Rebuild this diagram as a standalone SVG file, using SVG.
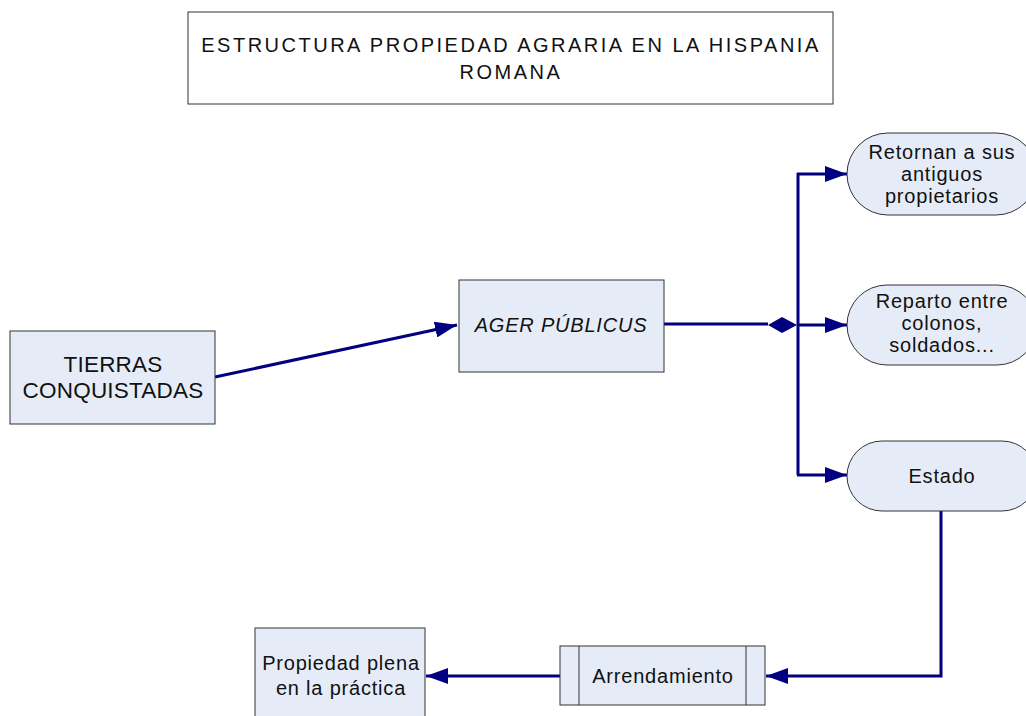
<svg xmlns="http://www.w3.org/2000/svg" width="1026" height="716" viewBox="0 0 1026 716">
<style>
.box{fill:#E6ECF7;stroke:#333;stroke-width:1}
.t{font-family:"Liberation Sans",Arial,sans-serif;font-size:20px;fill:#111;text-anchor:middle;letter-spacing:0.8px}
.title{font-size:20px;letter-spacing:2.5px}
.big{font-size:22.5px;letter-spacing:0.2px}
.c{fill:none;stroke:#000080;stroke-width:3}
</style>
<defs>
<marker id="ah" markerWidth="22" markerHeight="16" refX="22" refY="8" orient="auto" markerUnits="userSpaceOnUse">
<path d="M0,0 L22,8 L0,16 Z" fill="#000080"/>
</marker>
</defs>
<rect width="1026" height="716" fill="#fff"/>
<g id="title">
<rect x="188" y="12" width="645" height="92" fill="#fff" stroke="#333"/>
<text class="t title" x="511" y="52">ESTRUCTURA PROPIEDAD AGRARIA EN LA HISPANIA</text>
<text class="t title" x="511" y="79">ROMANA</text>
</g>
<g id="connectors">
<line class="c" x1="215" y1="377" x2="457" y2="325" marker-end="url(#ah)"/>
<line class="c" x1="664" y1="324" x2="768" y2="324"/>
<path d="M768,325 L782,317 L797,325 L782,333 Z" fill="#000080"/>
<path class="c" d="M798,173 L798,475"/>
<line class="c" x1="797" y1="325" x2="847" y2="325" marker-end="url(#ah)"/>
<line class="c" x1="797" y1="174" x2="847" y2="174" marker-end="url(#ah)"/>
<line class="c" x1="797" y1="475" x2="847" y2="475" marker-end="url(#ah)"/>
<path class="c" d="M941,511 L941,676 L766,676" marker-end="url(#ah)"/>
<line class="c" x1="560" y1="676" x2="426" y2="676" marker-end="url(#ah)"/>
</g>
<g id="tierras">
<rect class="box" x="10" y="331" width="205" height="93"/>
<text class="t big" x="113" y="372">TIERRAS</text>
<text class="t big" x="113" y="398">CONQUISTADAS</text>
</g>
<g id="ager">
<rect class="box" x="459" y="280" width="205" height="92"/>
<text class="t" x="561" y="332" font-style="italic">AGER PÚBLICUS</text>
</g>
<g id="retornan">
<rect class="box" x="847" y="133" width="190" height="82" rx="41" ry="41"/>
<text class="t" x="942" y="159">Retornan a sus</text>
<text class="t" x="942" y="181">antiguos</text>
<text class="t" x="942" y="203">propietarios</text>
</g>
<g id="reparto">
<rect class="box" x="847" y="285" width="190" height="80" rx="40" ry="40"/>
<text class="t" x="942" y="308">Reparto entre</text>
<text class="t" x="942" y="330">colonos,</text>
<text class="t" x="942" y="352">soldados...</text>
</g>
<g id="estado">
<rect class="box" x="847" y="441" width="190" height="70" rx="35" ry="35"/>
<text class="t" x="942" y="483">Estado</text>
</g>
<g id="arrendamiento">
<rect class="box" x="560" y="646" width="205" height="59"/>
<line x1="579" y1="646" x2="579" y2="705" stroke="#333"/>
<line x1="746" y1="646" x2="746" y2="705" stroke="#333"/>
<text class="t" x="663" y="683">Arrendamiento</text>
</g>
<g id="propiedad">
<rect class="box" x="255" y="628" width="170" height="92"/>
<text class="t" x="341" y="670">Propiedad plena</text>
<text class="t" x="341" y="695">en la práctica</text>
</g>
</svg>
